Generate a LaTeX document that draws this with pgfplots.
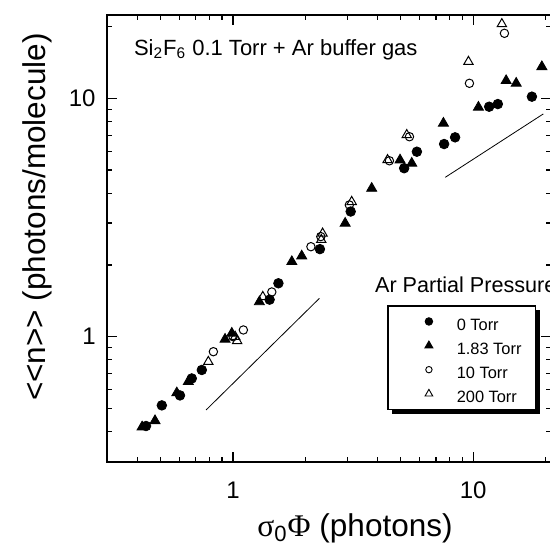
\documentclass[border=0pt]{standalone}
\usepackage{fontspec}
\setmainfont{Liberation Sans}
\newfontfamily\grk{Liberation Serif}
\usepackage{pgfplots}
\pgfplotsset{compat=1.18}

\begin{document}
\begin{tikzpicture}
\begin{axis}[
  scale only axis, width=222pt, height=223.5pt,
  xmode=log, ymode=log,
  xmin=0.2985, xmax=21.1, ymin=0.298, ymax=22.36,
  xtick={1,10}, xticklabels={1,10},
  ytick={1,10}, yticklabels={1,10},
  minor xtick={0.4,0.5,0.6,0.7,0.8,0.9,2,3,4,5,6,7,8,9,20},
  minor ytick={0.4,0.5,0.6,0.7,0.8,0.9,2,3,4,5,6,7,8,9,20},
  tick align=inside,
  major tick length=5pt, minor tick length=2.5pt,
  axis line style={line width=0.7pt},
  every tick/.style={black, line width=0.6pt},
  /pgf/number format/assume math mode=true,
  tick label style={font=\fontsize{12}{14}\selectfont, inner sep=0pt},
  xticklabel style={anchor=base, yshift=-18pt},
  yticklabel style={anchor=east, xshift=-5.5pt},
  xlabel={{\grk σ}\textsubscript{0}{\grk Φ} (photons)},
  ylabel={<{}<n>{}> (photons/molecule)},
  label style={font=\fontsize{15.75}{18}\selectfont},
  xlabel style={at={([yshift=-37pt]axis description cs:0.5586,0)}, anchor=base},
  ylabel style={at={([xshift=-30.5pt]axis description cs:0,0.548)}, anchor=base, rotate=0},
  legend style={name=leg, at={(axis description cs:0.631,0.351)}, anchor=north west,
    draw=black, line width=0.7pt, fill=white,
    inner xsep=0pt, inner ysep=1.8pt, row sep=0pt, column sep=0pt,
    cells={anchor=west}, nodes={inner sep=0pt},
    font=\fontsize{8.2}{9.5}\selectfont},
  legend image code/.code={\path (-20.3pt,0pt) (13.7pt,0pt); \draw[#1] plot coordinates {(0pt,0pt)};},
]
% 0 Torr - filled circles
\addplot[only marks, mark=*, mark size=2.4pt, black, forget plot] coordinates {
(0.434,0.422) (0.505,0.515) (0.601,0.567) (0.673,0.668) (0.741,0.725)
(1.42,1.43) (1.545,1.675) (2.30,2.33) (3.09,3.35) (5.16,5.09) (5.83,5.97)
(7.57,6.43) (8.41,6.86) (11.66,9.22) (12.67,9.46) (17.57,10.16)};
% 1.83 Torr - filled triangles
\addplot[only marks, mark=triangle*, mark size=2.9pt, black, forget plot] coordinates {
(0.418,0.418) (0.473,0.444) (0.583,0.581) (0.651,0.648) (0.926,0.975) (0.988,1.033)
(1.287,1.40) (1.757,2.064) (1.932,2.18) (2.93,2.99) (3.78,4.19) (4.96,5.51)
(5.55,5.34) (7.52,7.86) (10.52,9.17) (13.72,11.86) (15.11,11.56) (19.33,13.57)};
% 10 Torr - open circles
\addplot[only marks, mark=o, mark size=2.1pt, black, line width=0.5pt, mark options={fill=white}, forget plot] coordinates {
(0.828,0.865) (1.0,1.0) (1.104,1.067) (1.45,1.54) (2.11,2.385) (2.32,2.63)
(3.05,3.57) (4.48,5.47) (5.43,6.90) (9.65,11.56) (13.5,18.74)};
% 200 Torr - open triangles
\addplot[only marks, mark=triangle, mark size=2.7pt, black, line width=0.5pt, forget plot] coordinates {
(0.789,0.785) (1.02,1.0) (1.04,0.96) (1.33,1.47) (2.33,2.55) (2.36,2.71)
(3.12,3.68) (4.40,5.51) (5.29,7.02) (9.56,14.24) (13.17,20.5)};
% guide lines
\addplot[black, line width=0.4pt, forget plot] coordinates {(0.772,0.4926) (2.29,1.449)};
\addplot[black, line width=0.4pt, forget plot] coordinates {(7.65,4.66) (19.6,8.6)};

\addlegendimage{only marks, mark=*, mark size=1.9pt, black, line width=0.4pt}
\addlegendentry{\makebox[39.3pt][l]{\rule[-5.15pt]{0pt}{15.7pt}0 Torr}}
\addlegendimage{only marks, mark=triangle*, mark size=2.3pt, black, line width=0.4pt}
\addlegendentry{\makebox[39.3pt][l]{\rule[-5.15pt]{0pt}{15.7pt}1.83 Torr}}
\addlegendimage{only marks, mark=o, mark size=1.6pt, black, line width=0.45pt}
\addlegendentry{\makebox[39.3pt][l]{\rule[-5.15pt]{0pt}{15.7pt}10 Torr}}
\addlegendimage{only marks, mark=triangle, mark size=2.2pt, black, line width=0.45pt}
\addlegendentry{\makebox[39.3pt][l]{\rule[-5.15pt]{0pt}{15.7pt}200 Torr}}

\node[anchor=base west, font=\fontsize{11}{13}\selectfont] at (axis description cs:0.045,0.9105) {Si\textsubscript{2}F\textsubscript{6} 0.1 Torr + Ar buffer gas};
\node[anchor=base west, font=\fontsize{10.8}{13}\selectfont] at (axis description cs:0.588,0.379) {Ar Partial Pressure};
\end{axis}
% heavy shadow on the right and bottom of the legend box
\fill[black] ([yshift=-2.4pt]leg.north east) rectangle ([xshift=2pt,yshift=-2pt]leg.south east);
\fill[black] ([xshift=2.4pt]leg.south west) rectangle ([xshift=2pt,yshift=-2pt]leg.south east);
\pgfresetboundingbox
\path[use as bounding box] ([shift={(-53.5pt,-41pt)}]current axis.south west) rectangle ([shift={(-0.5pt,7.5pt)}]current axis.north east);
\end{tikzpicture}
\end{document}
